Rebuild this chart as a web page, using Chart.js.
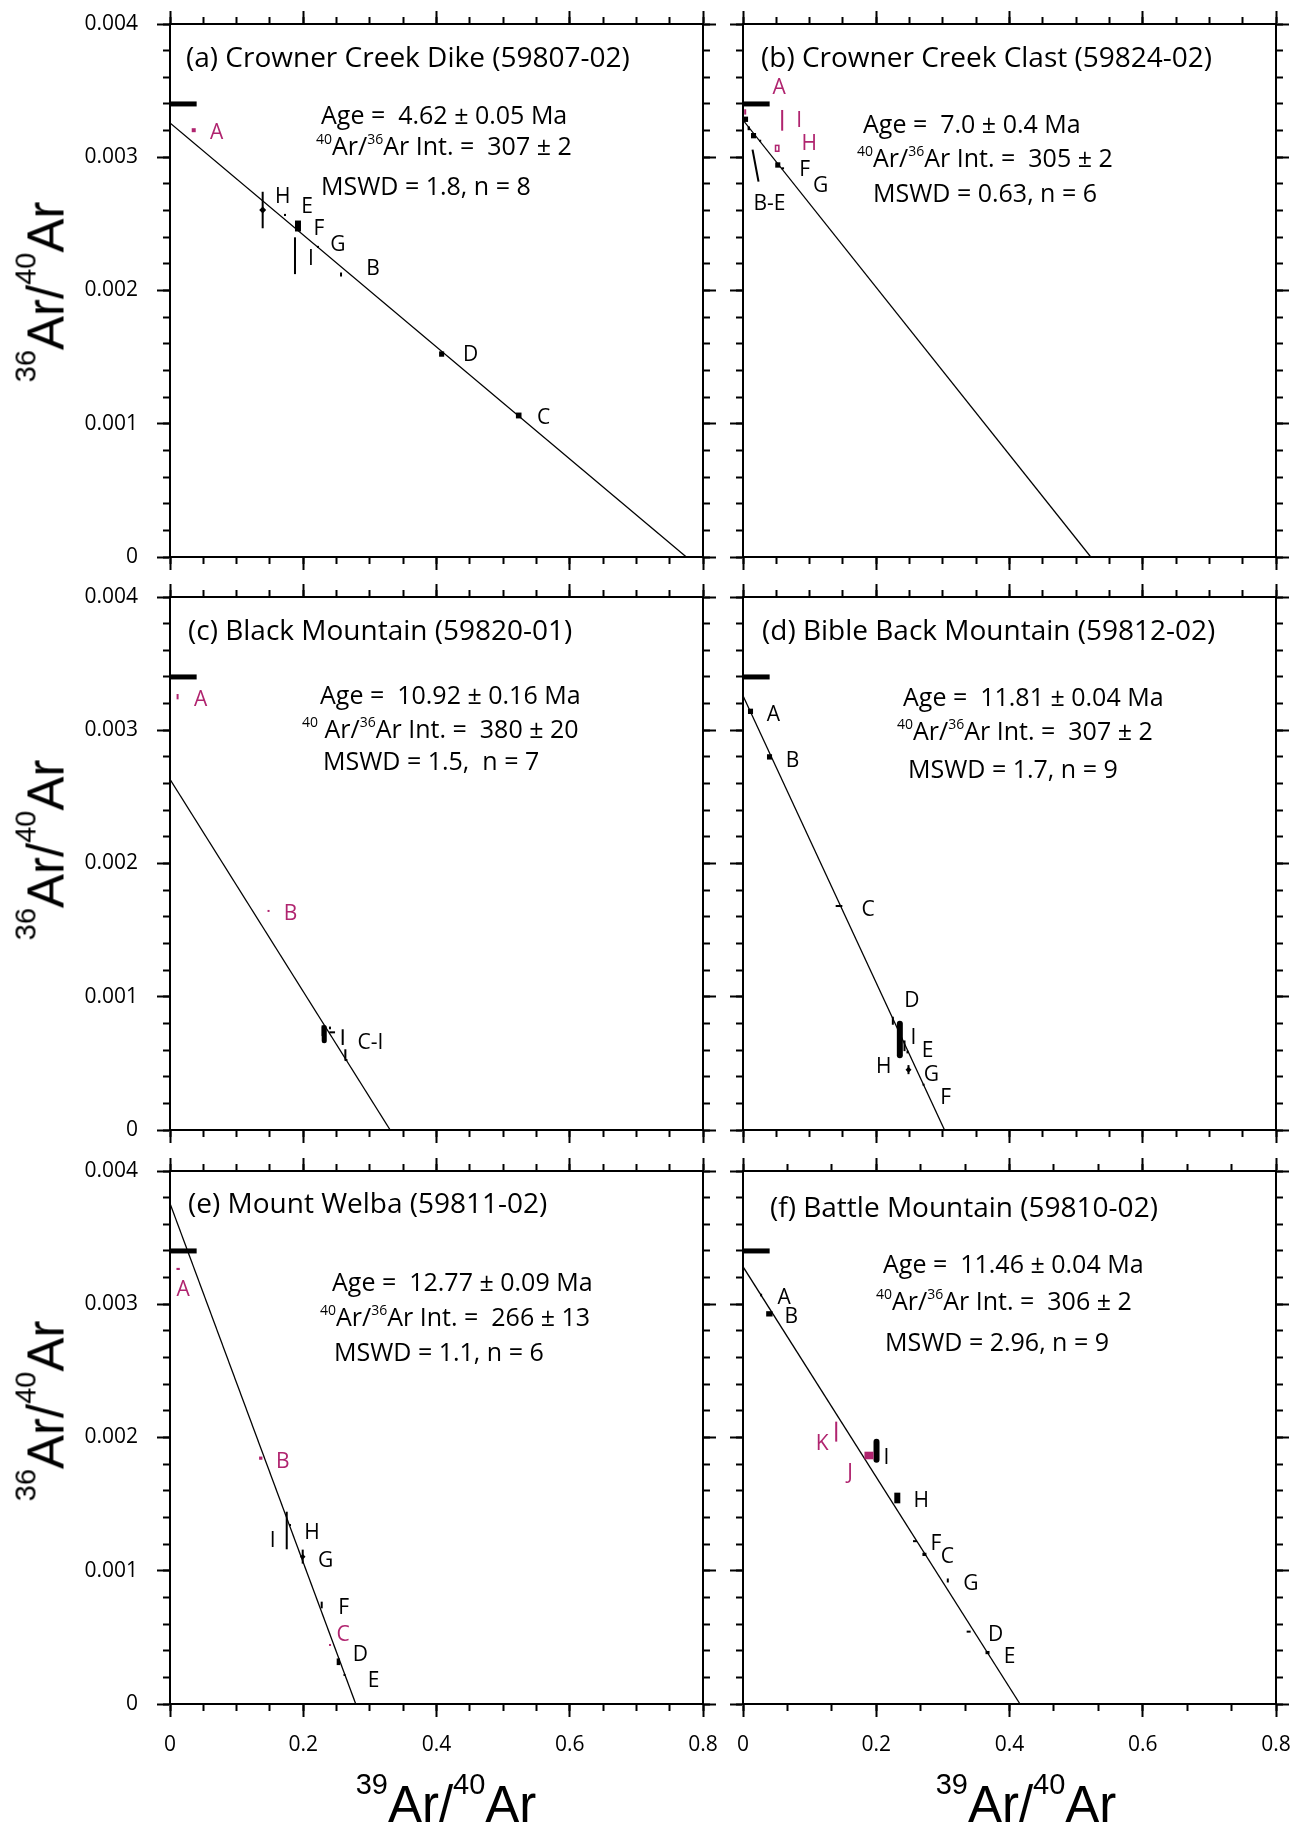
<!DOCTYPE html>
<html>
<head>
<meta charset="utf-8">
<script src="https://cdn.jsdelivr.net/npm/chart.js@4.4.1/dist/chart.umd.min.js"></script>
<style>
html, body { margin:0; padding:0; background:#fff; }
body { width:1293px; height:1825px; position:relative; overflow:hidden; }
canvas { position:absolute; }
.ttl { position:absolute; font-family:"Liberation Sans", Arial, sans-serif; font-size:51px; line-height:51px; white-space:nowrap; color:#000; }
.ttl .s { font-size:29px; line-height:1; position:relative; top:-28px; }
.yt { transform:translate(-50%,-50%) rotate(-90deg); }
.xt { transform:translateX(-50%); }
</style>
</head>
<body>
<canvas id="pa" width="720" height="580" style="left:0;top:0"></canvas>
<canvas id="pb" width="573" height="580" style="left:720px;top:0"></canvas>
<canvas id="pc" width="720" height="570" style="left:0;top:580px"></canvas>
<canvas id="pd" width="573" height="570" style="left:720px;top:580px"></canvas>
<canvas id="pe" width="720" height="675" style="left:0;top:1150px"></canvas>
<canvas id="pf" width="573" height="675" style="left:720px;top:1150px"></canvas>

<div class="ttl yt" style="left:46px;top:292px"><span class="s">36</span>Ar/<span class="s">40</span>Ar</div>
<div class="ttl yt" style="left:46px;top:850px"><span class="s">36</span>Ar/<span class="s">40</span>Ar</div>
<div class="ttl yt" style="left:46px;top:1411px"><span class="s">36</span>Ar/<span class="s">40</span>Ar</div>
<div class="ttl xt" style="left:446px;top:1779px"><span class="s">39</span>Ar/<span class="s">40</span>Ar</div>
<div class="ttl xt" style="left:1026px;top:1779px"><span class="s">39</span>Ar/<span class="s">40</span>Ar</div>

<script>
// atmospheric 36/40 marker and axis ranges
const atmY = 0.0034, atmX = 0.04;
const xMax = 0.8, yMax = 0.004;

// (a) Crowner Creek Dike
const aStep = ['A','B','C','D','E','F','G','H','I'];
const aX  = [0.0356, 0.2567, 0.5234, 0.4077, 0.1726, 0.1921, 0.2221, 0.1391, 0.1876];
const aY  = [0.003203, 0.00212, 0.001062, 0.001523, 0.002567, 0.002484, 0.002327, 0.002604, 0.002261];
const aEx = [0.003, 0.0008, 0.0042, 0.0038, 0.0008, 0.0045, 0.0008, 0.0015, 0.0008];
const aEy = [0.000015, 0.000015, 0.000022, 0.00002, 0.000008, 0.000041, 0.000008, 0.000137, 0.000138];
const aOut = ['A'];
const aLine = [0.003257, 0.775];
const aLabels = ['A','B','C','D','E','F','G','H','I'];

// (b) Crowner Creek Clast
const bStep = ['A','B','C','D','E','F','G','H','I'];
const bX  = [0.0033, 0.0038, 0.0087, 0.0158, 0.0258, 0.0522, 0.0596, 0.0513, 0.0588];
const bY  = [0.00334, 0.003285, 0.003217, 0.003162, 0.003124, 0.002942, 0.002917, 0.003067, 0.003277];
const bEx = [0.0008, 0.0038, 0.0018, 0.0038, 0.0015, 0.0038, 0.002, 0.0025, 0.0008];
const bEy = [0.00002, 0.00002, 0.000014, 0.00002, 0.000006, 0.00002, 0.000004, 0.000022, 0.0000777];
const bOut = ['A','H','I'];
const bLine = [0.003279, 0.522];
const bLabels = ['A','','','B-E','','F','G','H','I'];

// (c) Black Mountain
const cStep = ['A','B','C','D','E','F','G','H','I'];
const cX  = [0.0114, 0.1479, 0.2315, 0.2290, 0.2434, 0.2592, 0.2632, 0.2401, 0.2645];
const cY  = [0.003252, 0.001644, 0.000719, 0.000745, 0.000733, 0.000697, 0.000563, 0.000766, 0.000525];
const cEx = [0.0008, 0.0008, 0.0038, 0.0012, 0.0043, 0.0008, 0.0008, 0.0008, 0.0018];
const cEy = [0.00002, 0.000004, 0.0000688, 0.00004, 0.000006, 0.0000589, 0.0000428, 0.00001, 0.000004];
const cOut = ['A','B'];
const cLine = [0.002632, 0.3305];
const cLabels = ['A','B','','','','','C-I','',''];

// (d) Bible Back Mountain
const dStep = ['A','B','C','D','E','F','G','H','I'];
const dX  = [0.01126, 0.0398, 0.1441, 0.2249, 0.2469, 0.271, 0.2484, 0.2354, 0.2424];
const dY  = [0.003142, 0.0028, 0.001681, 0.00082, 0.000585, 0.00034, 0.000453, 0.000679, 0.000632];
const dEx = [0.0038, 0.0038, 0.005, 0.0008, 0.0008, 0.0008, 0.0008, 0.0045, 0.0015];
const dEy = [0.00002, 0.00002, 0.000004, 0.00003, 0.00001, 0.000005, 0.000034, 0.000141, 0.00004];
const dOut = [];
const dLine = [0.003259, 0.3025];
const dLabels = ['A','B','C','D','E','F','G','H','I'];

// (e) Mount Welba
const eStep = ['A','B','C','D','E','F','G','H','I'];
const eX  = [0.0122, 0.1362, 0.2402, 0.2527, 0.2619, 0.2277, 0.1992, 0.1801, 0.1752];
const eY  = [0.003265, 0.001845, 0.000443, 0.000317, 0.000218, 0.000743, 0.001106, 0.001343, 0.001302];
const eEx = [0.0025, 0.0025, 0.0008, 0.0025, 0.0008, 0.0012, 0.0008, 0.0008, 0.0008];
const eEy = [0.000008, 0.000012, 0.000004, 0.000025, 0.000005, 0.000025, 0.0000525, 0.000005, 0.000141];
const eOut = ['A','B','C'];
const eLine = [0.003757, 0.2788];
const eLabels = ['A','B','C','D','E','F','G','H','I'];

// (f) Battle Mountain
const fStep = ['A','B','C','D','E','F','G','H','I','J','K'];
const fX  = [0.0272, 0.0396, 0.2723, 0.3387, 0.367, 0.2582, 0.3074, 0.2316, 0.2004, 0.1891, 0.1399];
const fY  = [0.003069, 0.002928, 0.001123, 0.000543, 0.000386, 0.001222, 0.000927, 0.001546, 0.0019, 0.001865, 0.002044];
const fEx = [0.0008, 0.0048, 0.003, 0.003, 0.003, 0.003, 0.0008, 0.0045, 0.0045, 0.0068, 0.0012];
const fEy = [0.00001, 0.00002, 0.000012, 0.000003, 0.000012, 0.000003, 0.000015, 0.00004, 0.00009, 0.0000285, 0.000075];
const fOut = ['J','K'];
const fLine = [0.003282, 0.4158];
const fLabels = ['A','B','C','D','E','F','G','H','I','J','K'];

// titles and results text
const titles = ['(a) Crowner Creek Dike (59807-02)', '(b) Crowner Creek Clast (59824-02)',
  '(c) Black Mountain (59820-01)', '(d) Bible Back Mountain (59812-02)',
  '(e) Mount Welba (59811-02)', '(f) Battle Mountain (59810-02)'];
const ages = ['Age =  4.62 \u00b1 0.05 Ma', 'Age =  7.0 \u00b1 0.4 Ma', 'Age =  10.92 \u00b1 0.16 Ma',
  'Age =  11.81 \u00b1 0.04 Ma', 'Age =  12.77 \u00b1 0.09 Ma', 'Age =  11.46 \u00b1 0.04 Ma'];
const intercepts = ['307 \u00b1 2', '305 \u00b1 2', '380 \u00b1 20', '307 \u00b1 2', '266 \u00b1 13', '306 \u00b1 2'];
const mswd = ['MSWD = 1.8, n = 8', 'MSWD = 0.63, n = 6', 'MSWD = 1.5,  n = 7',
  'MSWD = 1.7, n = 9', 'MSWD = 1.1, n = 6', 'MSWD = 2.96, n = 9'];

// ---- layout (pixels) ----
const MAG = '#b0246f';
const FONT = '"Open Sans", "DejaVu Sans", sans-serif';
// label offsets from the point, px
const aOff = [[23,3],[32,-5],[25,3],[29,1],[22,-8],[21,3],[20,-2],[20,-13],[16,3]];
const bOff = [[34,-24],null,null,[16,68],null,[27,5],[38,18],[32,-4],[17,1]];
const cOff = [[23,3],[22,3],null,null,null,null,[25,-12],null,null];
const dOff = [[23,4],[23,4],[29,4],[19,-20],[20,-1],[22,13],[23,5],[-16,27],[9,-8]];
const eOff = [[5,21],[22,4],[13,-10],[22,-7],[29,6],[22,3],[23,4],[22,8],[-14,11]];
const fOff = [[23,3],[22,3],[23,3],[27,3],[22,4],[21,3],[23,4],[24,3],[10,7],[-19,18],[-14,12]];
// centre marker radius (diamond) per point, px
const aMark = [0,0,0,0,0,0,0,3.5,0];
const dMark = [0,0,0,0,0,0,3,0,0];
const eMark = [0,0,0,0,0,0,2.8,0,0];
// text anchors relative to plot area: title, age, intercept, mswd
const textPos = [
  [[16,43],[151,100],[146,131],[151,171]],
  [[18,43],[120,109],[114,143],[130,178]],
  [[18,43],[150,107],[132,141],[153,173]],
  [[19,43],[160,109],[154,143],[165,181]],
  [[18,42],[162,120],[150,155],[164,190]],
  [[27,46],[140,102],[133,139],[142,180]]
];

function drawRich(ctx, x, y, parts, size) {
  let cx = x;
  parts.forEach(p => {
    const s = typeof p === 'string' ? {t: p} : p;
    const fs = s.sup ? Math.round(size * 0.56) : size;
    ctx.font = fs + 'px ' + FONT;
    ctx.fillText(s.t, cx, s.sup ? y - size * 0.44 : y);
    cx += ctx.measureText(s.t).width;
  });
}

function roundRect(ctx, x, y, w, h, r) {
  ctx.beginPath();
  ctx.moveTo(x + r, y);
  ctx.arcTo(x + w, y, x + w, y + h, r);
  ctx.arcTo(x + w, y + h, x, y + h, r);
  ctx.arcTo(x, y + h, x, y, r);
  ctx.arcTo(x, y, x + w, y, r);
  ctx.closePath();
  ctx.fill();
}

function isoPlugin(p) {
  return {
    id: 'iso',
    afterDatasetsDraw(chart) {
      const ctx = chart.ctx, xs = chart.scales.x, ys = chart.scales.y;
      const L = chart.chartArea.left, T = chart.chartArea.top;
      ctx.save();
      // error boxes
      p.x.forEach((xv, i) => {
        const x0 = xs.getPixelForValue(xv - p.ex[i]), x1 = xs.getPixelForValue(xv + p.ex[i]);
        const y0 = ys.getPixelForValue(p.y[i] + p.ey[i]), y1 = ys.getPixelForValue(p.y[i] - p.ey[i]);
        const w = Math.max(x1 - x0, 2), h = Math.max(y1 - y0, 2);
        const cx = (x0 + x1) / 2, cy = (y0 + y1) / 2;
        const col = p.out.includes(p.step[i]) ? MAG : '#000';
        if (p.open && p.open.includes(p.step[i])) {
          ctx.strokeStyle = col;
          ctx.lineWidth = 1.5;
          ctx.strokeRect(cx - w / 2, cy - h / 2, w, h);
        } else {
          ctx.fillStyle = col;
          if (w >= 5 && h >= 12) roundRect(ctx, cx - w / 2, cy - h / 2, w, h, w / 2);
          else ctx.fillRect(cx - w / 2, cy - h / 2, w, h);
        }
      });
      // step labels
      ctx.font = '21px ' + FONT;
      ctx.textAlign = 'center';
      ctx.textBaseline = 'middle';
      p.labels.forEach((t, i) => {
        if (!t || !p.off[i]) return;
        const px = xs.getPixelForValue(p.x[i]), py = ys.getPixelForValue(p.y[i]);
        ctx.fillStyle = p.out.includes(p.step[i]) ? MAG : '#000';
        ctx.fillText(t, px + p.off[i][0], py + p.off[i][1]);
      });
      if (p.leader) {
        const k = p.leader[0];
        const px = xs.getPixelForValue(p.x[k]), py = ys.getPixelForValue(p.y[k]);
        ctx.strokeStyle = '#000';
        ctx.lineWidth = 2;
        ctx.beginPath();
        ctx.moveTo(px + p.leader[1], py + p.leader[2]);
        ctx.lineTo(px + p.leader[3], py + p.leader[4]);
        ctx.stroke();
      }
      // title and results
      ctx.fillStyle = '#000';
      ctx.textAlign = 'left';
      ctx.textBaseline = 'alphabetic';
      const tp = p.pos;
      ctx.font = '28px ' + FONT;
      ctx.fillText(p.title, L + tp[0][0], T + tp[0][1]);
      ctx.font = '25px ' + FONT;
      ctx.fillText(p.age, L + tp[1][0], T + tp[1][1]);
      drawRich(ctx, L + tp[2][0], T + tp[2][1],
        [{t: '40', sup: true}, p.gap ? ' Ar/' : 'Ar/', {t: '36', sup: true}, 'Ar Int. =  ' + p.intc], 25);
      ctx.font = '25px ' + FONT;
      ctx.fillText(p.mswd, L + tp[3][0], T + tp[3][1]);
      ctx.restore();
    }
  };
}

function axis(pos, minor, step, max, show, size, fmt) {
  const vertical = pos === 'left' || pos === 'right';
  return {
    type: 'linear', axis: vertical ? 'y' : 'x',
    position: pos, min: 0, max: max, weight: minor ? 0 : 1,
    grid: {drawOnChartArea: false, drawTicks: true, tickLength: minor ? 7 : 13, tickWidth: 2, tickColor: '#000'},
    border: {display: true, color: '#000', width: 2},
    ticks: {display: show, stepSize: step, autoSkip: false, maxRotation: 0, minRotation: 0,
      color: '#000', font: {family: 'Open Sans', size: 21}, padding: pos === 'left' ? 19 : 15, callback: fmt},
    afterFit: s => {
      if (vertical) s.width = size; else s.height = size;
      s.paddingTop = s.paddingBottom = s.paddingLeft = s.paddingRight = 0;
    }
  };
}

function fmtX(v) { return v === 0 ? '0' : v.toFixed(1); }
function fmtY(v) { return v === 0 ? '0' : v.toFixed(3); }

function makePanel(id, p) {
  const pts = p.x.map((x, i) => ({x: x, y: p.y[i]}));
  new Chart(document.getElementById(id), {
    type: 'scatter',
    data: {
      datasets: [
        {type: 'line', data: [{x: 0, y: p.line[0]}, {x: p.line[1], y: 0}],
          borderColor: '#000', borderWidth: 1.3, pointRadius: 0, fill: false},
        {type: 'line', data: [{x: 0, y: atmY}, {x: atmX, y: atmY}],
          borderColor: '#000', borderWidth: 5, pointRadius: 0, fill: false},
        {data: pts, pointStyle: 'rectRot', pointRadius: p.mark || 0,
          backgroundColor: '#000', borderColor: '#000', borderWidth: 0}
      ]
    },
    options: {
      responsive: false, animation: false,
      layout: {padding: 0},
      plugins: {legend: {display: false}, tooltip: {enabled: false}},
      scales: {
        x: axis('bottom', true, p.xMinor, xMax, false, 0),
        xb: axis('bottom', false, 0.2, xMax, p.showX, p.pad[3], fmtX),
        xt: axis('top', true, p.xMinor, xMax, false, 0),
        xt2: axis('top', false, 0.2, xMax, false, p.pad[2]),
        y: axis('left', true, 0.0002, yMax, false, 0),
        yl: axis('left', false, 0.001, yMax, p.showY, p.pad[0], fmtY),
        yr: axis('right', true, 0.0002, yMax, false, 0),
        yr2: axis('right', false, 0.001, yMax, false, p.pad[1])
      }
    },
    plugins: [isoPlugin(p)]
  });
}

window.onload = function () {
  makePanel('pa', {step: aStep, x: aX, y: aY, ex: aEx, ey: aEy, out: aOut, line: aLine, labels: aLabels, off: aOff,
    mark: aMark,
    title: titles[0], age: ages[0], intc: intercepts[0], mswd: mswd[0], pos: textPos[0],
    xMinor: 0.05, showX: false, showY: true, pad: [170, 17, 24, 23]});
  makePanel('pb', {step: bStep, x: bX, y: bY, ex: bEx, ey: bEy, out: bOut, line: bLine, labels: bLabels, off: bOff,
    leader: [3, -1, 14, 5, 46], open: ['H'],
    title: titles[1], age: ages[1], intc: intercepts[1], mswd: mswd[1], pos: textPos[1],
    xMinor: 0.05, showX: false, showY: false, pad: [23, 17, 24, 23]});
  makePanel('pc', {step: cStep, x: cX, y: cY, ex: cEx, ey: cEy, out: cOut, line: cLine, labels: cLabels, off: cOff,
    title: titles[2], age: ages[2], intc: intercepts[2], mswd: mswd[2], pos: textPos[2], gap: true,
    xMinor: 0.05, showX: false, showY: true, pad: [170, 17, 17, 20]});
  makePanel('pd', {step: dStep, x: dX, y: dY, ex: dEx, ey: dEy, out: dOut, line: dLine, labels: dLabels, off: dOff,
    mark: dMark,
    title: titles[3], age: ages[3], intc: intercepts[3], mswd: mswd[3], pos: textPos[3],
    xMinor: 0.05, showX: false, showY: false, pad: [23, 17, 17, 20]});
  makePanel('pe', {step: eStep, x: eX, y: eY, ex: eEx, ey: eEy, out: eOut, line: eLine, labels: eLabels, off: eOff,
    mark: eMark,
    title: titles[4], age: ages[4], intc: intercepts[4], mswd: mswd[4], pos: textPos[4],
    xMinor: 0.05, showX: true, showY: true, pad: [170, 17, 21, 121]});
  makePanel('pf', {step: fStep, x: fX, y: fY, ex: fEx, ey: fEy, out: fOut, line: fLine, labels: fLabels, off: fOff,
    title: titles[5], age: ages[5], intc: intercepts[5], mswd: mswd[5], pos: textPos[5],
    xMinor: 0.8 / 12, showX: true, showY: false, pad: [23, 17, 21, 121]});
};
</script>
</body>
</html>
